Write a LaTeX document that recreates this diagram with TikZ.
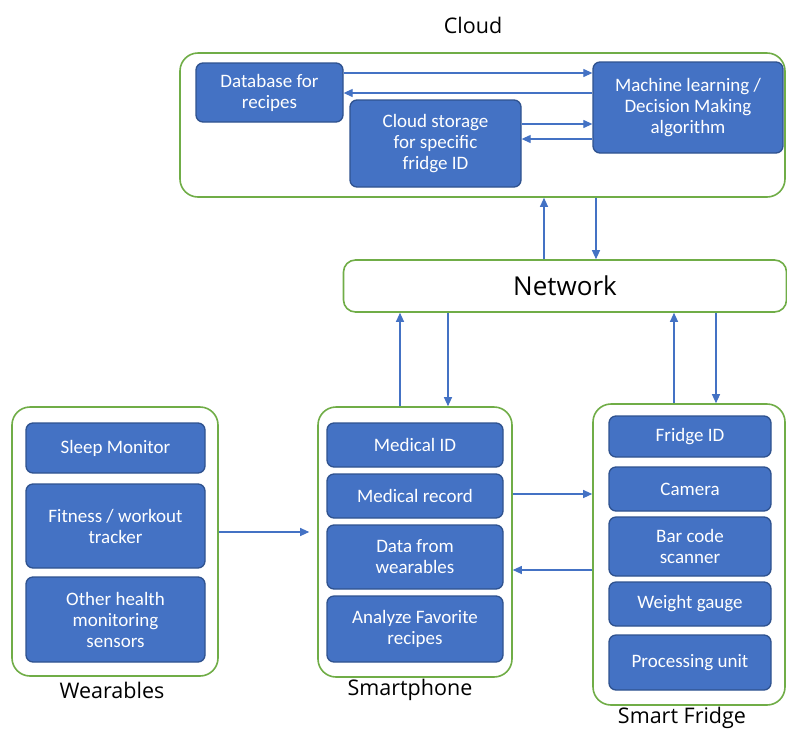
\documentclass[tikz,border=0pt]{standalone}
\usepackage{fontspec}
\setmainfont{Carlito}
\newfontfamily\netfont{Open Sans}
\usetikzlibrary{arrows.meta}
\definecolor{bfill}{HTML}{4472C4}
\definecolor{bdraw}{HTML}{2F528F}
\definecolor{gline}{HTML}{70AD47}
\begin{document}
\begin{tikzpicture}[x=1pt,y=-1pt,
  cont/.style={draw=gline,line width=1.6pt,rounded corners=18pt,fill=white},
  bbox/.style={draw=bdraw,line width=1.3pt,fill=bfill,rounded corners=7pt,text=white,
    align=center,font=\fontsize{19}{21}\selectfont,inner sep=0pt},
  lbl/.style={font=\netfont\fontsize{21.5}{24}\selectfont,text=black},
  arr/.style={draw=bfill,line width=1.1pt,-{Triangle[width=8pt,length=9pt]}}]
\useasboundingbox (0,0) rectangle (787,729);
% containers
\node[cont,minimum width=605pt,minimum height=144pt] (cloud) at (482.5,125) {};
\node[cont,minimum width=443pt,minimum height=52pt,rounded corners=12pt] (net) at (565,286) {};
\node[font=\netfont\fontsize{26}{28}\selectfont] (nettxt) at (565,286) {Network};
\node[cont,minimum width=206pt,minimum height=269pt] (wear) at (115,541.5) {};
\node[cont,minimum width=194pt,minimum height=270pt] (phone) at (415,542) {};
\node[cont,minimum width=192pt,minimum height=301pt] (fridge) at (689,554.5) {};
% labels
\node[lbl] (lcloud) at (473,25) {Cloud};
\node[lbl] (lwear) at (112,690) {Wearables};
\node[lbl] (lphone) at (410,690) {Smartphone};
\node[lbl] (lfridge) at (682,718) {Smart Fridge};
% cloud boxes
\node[bbox,minimum width=147pt,minimum height=59pt] (db) at (269.5,92.5) {Database for\\recipes};
\node[bbox,minimum width=190pt,minimum height=91pt] (ml) at (688,107.5) {Machine learning /\\Decision Making\\algorithm};
\node[bbox,minimum width=171pt,minimum height=87pt] (cs) at (435.5,143.5) {Cloud storage\\for specific\\fridge ID};
% wearables boxes
\node[bbox,minimum width=179pt,minimum height=50pt] (sleep) at (115.5,448) {Sleep Monitor};
\node[bbox,minimum width=179pt,minimum height=84pt] (fit) at (115.5,526) {Fitness / workout\\tracker};
\node[bbox,minimum width=179pt,minimum height=85pt] (oth) at (115.5,619.5) {Other health\\monitoring\\sensors};
% smartphone boxes
\node[bbox,minimum width=176pt,minimum height=44pt] (mid) at (415,445) {Medical ID};
\node[bbox,minimum width=176pt,minimum height=44pt] (mrec) at (415,496) {Medical record};
\node[bbox,minimum width=176pt,minimum height=64pt] (dfw) at (415,557) {Data from\\wearables};
\node[bbox,minimum width=176pt,minimum height=66pt] (afr) at (415,629) {Analyze Favorite\\recipes};
% fridge boxes
\node[bbox,minimum width=162pt,minimum height=41pt] (fid) at (690,436.5) {Fridge ID};
\node[bbox,minimum width=162pt,minimum height=44pt] (cam) at (690,489) {Camera};
\node[bbox,minimum width=162pt,minimum height=59pt] (bar) at (690,546.5) {Bar code\\scanner};
\node[bbox,minimum width=162pt,minimum height=44pt] (wg) at (690,604) {Weight gauge};
\node[bbox,minimum width=162pt,minimum height=55pt] (pu) at (690,662.5) {Processing unit};
% guide coordinates
\coordinate (ya) at (0,73);
\coordinate (yb) at (0,93);
\coordinate (yc) at (0,124);
\coordinate (yd) at (0,139);
\coordinate (xa) at (544,0);
\coordinate (xb) at (596,0);
\coordinate (xc) at (400,0);
\coordinate (xd) at (448,0);
\coordinate (xe) at (674,0);
\coordinate (xf) at (716,0);
\coordinate (ye) at (0,532);
\coordinate (yf) at (0,494);
\coordinate (yg) at (0,570);
% cloud arrows
\draw[arr] (db.east |- ya) -- (ml.west |- ya);
\draw[arr] (ml.west |- yb) -- (db.east |- yb);
\draw[arr] (cs.east |- yc) -- (ml.west |- yc);
\draw[arr] (ml.west |- yd) -- (cs.east |- yd);
% network arrows
\draw[arr] (net.north -| xa) -- (cloud.south -| xa);
\draw[arr] (cloud.south -| xb) -- (net.north -| xb);
\draw[arr] (phone.north -| xc) -- (net.south -| xc);
\draw[arr] (net.south -| xd) -- (phone.north -| xd);
\draw[arr] (fridge.north -| xe) -- (net.south -| xe);
\draw[arr] (net.south -| xf) -- (fridge.north -| xf);
% horizontal arrows
\draw[arr] (wear.east |- ye) -- ([xshift=-8pt]phone.west |- ye);
\draw[arr] (phone.east |- yf) -- (fridge.west |- yf);
\draw[arr] (fridge.west |- yg) -- (phone.east |- yg);
\end{tikzpicture}
\end{document}
